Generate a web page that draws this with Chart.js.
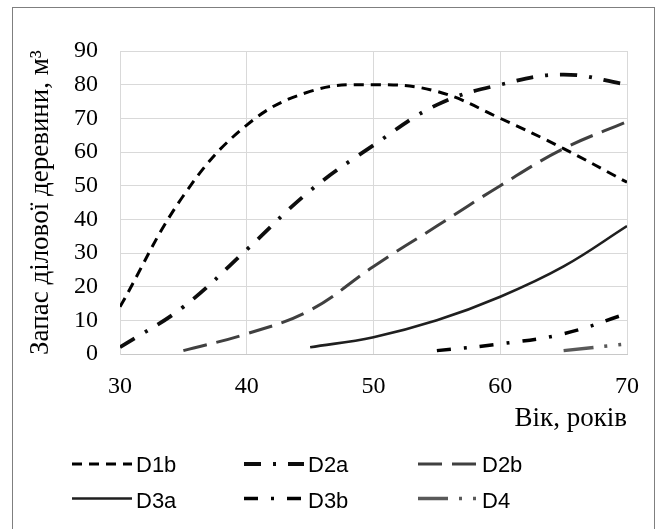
<!DOCTYPE html>
<html><head><meta charset="utf-8">
<script src="https://cdn.jsdelivr.net/npm/chart.js@4"></script>
<style>
html,body{margin:0;padding:0;background:#fff;overflow:hidden;width:657px;height:529px;}
#frame{position:absolute;left:12px;top:7px;width:643px;height:560px;border:1px solid #7f7f7f;box-sizing:border-box;}
#wrap{position:absolute;left:0;top:0;width:657px;height:529px;}
</style></head><body>
<div id="frame"></div>
<div id="wrap"><canvas id="c" width="657" height="529"></canvas></div>
<script>
// Age (years)
const ages = [30, 35, 40, 45, 50, 55, 60, 65, 70];
// Commercial timber stock, m3
const D1b = [14, 47, 68, 78, 80, 78, 70, 61, 51];
const D2a = [2, 14, 31, 48.5, 62, 74, 80, 83, 80];
const D2b = [null, 1, 6, 13, 26, 38, 50, 61, 69];
const D3a = [null, null, null, 2, 5, 10, 17, 26, 38];
const D3b = [null, null, null, null, null, 1, 3, 6, 12];
const D4  = [null, null, null, null, null, null, null, 1, 3];
const xTicks = [30, 40, 50, 60, 70];
const yTicks = [0, 10, 20, 30, 40, 50, 60, 70, 80, 90];
const yTitle = 'Запас ділової деревини, м³';
const xTitle = 'Вік, років';

const toPts = arr => ages.map((a, i) => ({x: a, y: arr[i]}));

const styles = {
  D1b: {color: '#000000', width: 3,   dash: [10, 7]},
  D2a: {color: '#0d0d0d', width: 3.8, dash: [17, 12, 3, 12]},
  D2b: {color: '#404040', width: 3,   dash: [24, 10]},
  D3a: {color: '#1f1f1f', width: 2.6, dash: []},
  D3b: {color: '#000000', width: 3.5, dash: [14, 13, 3, 13]},
  D4:  {color: '#595959', width: 3.5, dash: [30, 11, 3, 11, 3, 11]}
};
const seriesData = {D1b, D2a, D2b, D3a, D3b, D4};

const datasets = Object.keys(seriesData).map(name => ({
  label: name,
  data: toPts(seriesData[name]),
  borderColor: styles[name].color,
  borderWidth: styles[name].width,
  borderDash: styles[name].dash,
  borderCapStyle: 'butt',
  pointRadius: 0,
  pointHoverRadius: 0,
  tension: 0.4,
  fill: false,
  spanGaps: false
}));

const legendCols = [72, 244, 418];
const legendLineY = [464, 498.5];
const legendTextY = [472, 508];

const gridLegend = {
  id: 'gridLegend',
  afterDraw(chart) {
    const ctx = chart.ctx;
    chart.data.datasets.forEach((ds, i) => {
      const c = i % 3, r = Math.floor(i / 3);
      const x = legendCols[c];
      ctx.save();
      ctx.strokeStyle = ds.borderColor;
      ctx.lineWidth = ds.borderWidth;
      ctx.lineCap = 'butt';
      ctx.setLineDash(ds.borderDash || []);
      ctx.beginPath();
      ctx.moveTo(x, legendLineY[r]);
      ctx.lineTo(x + 60, legendLineY[r]);
      ctx.stroke();
      ctx.setLineDash([]);
      ctx.fillStyle = '#000';
      ctx.font = '22px "Liberation Sans", Arial, sans-serif';
      ctx.textBaseline = 'alphabetic';
      ctx.textAlign = 'left';
      ctx.fillText(ds.label, x + 64, legendTextY[r]);
      ctx.restore();
    });
  }
};

new Chart(document.getElementById('c'), {
  type: 'line',
  data: {datasets},
  plugins: [gridLegend],
  options: {
    responsive: false,
    devicePixelRatio: 1,
    animation: false,
    events: [],
    layout: {padding: {left: 0, right: 27, top: 51, bottom: 94}},
    plugins: {legend: {display: false}, tooltip: {enabled: false}},
    scales: {
      x: {
        type: 'linear', min: 30, max: 70,
        afterFit: s => { s.height = 81; },
        afterBuildTicks: s => { s.ticks = xTicks.map(v => ({value: v})); },
        grid: {color: '#d9d9d9', lineWidth: 1, drawTicks: false},
        border: {color: '#c8c8c8', width: 1},
        ticks: {
          color: '#000', padding: 18, maxRotation: 0, autoSkip: false,
          font: {family: '"Liberation Serif", "Times New Roman", serif', size: 24}
        },
        title: {
          display: true, text: xTitle, align: 'end', color: '#000',
          padding: {top: 0, bottom: 0},
          font: {family: '"Liberation Serif", "Times New Roman", serif', size: 27}
        }
      },
      y: {
        type: 'linear', min: 0, max: 90,
        afterFit: s => { s.width = 120; },
        afterBuildTicks: s => { s.ticks = yTicks.map(v => ({value: v})); },
        grid: {color: '#d9d9d9', lineWidth: 1, drawTicks: false},
        border: {color: '#d9d9d9', width: 1},
        ticks: {
          color: '#000', padding: 22,
          font: {family: '"Liberation Serif", "Times New Roman", serif', size: 24}
        },
        title: {
          display: true, text: yTitle, color: '#000',
          padding: {top: 25, bottom: 0},
          font: {family: '"Liberation Serif", "Times New Roman", serif', size: 27}
        }
      }
    }
  }
});
</script>
</body></html>
